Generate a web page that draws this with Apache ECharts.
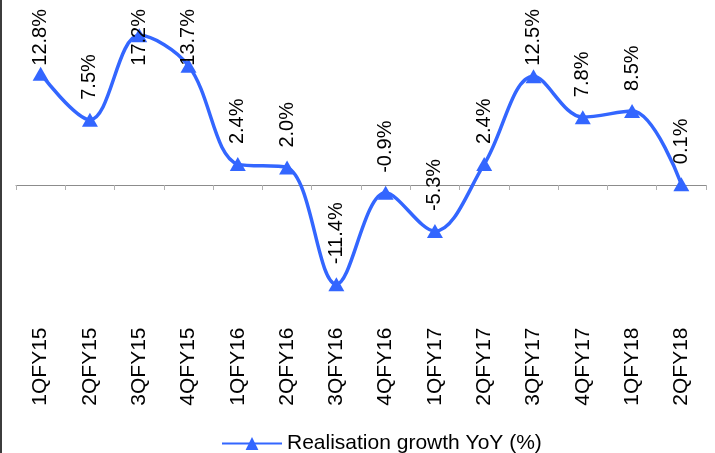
<!DOCTYPE html>
<html>
<head>
<meta charset="utf-8">
<style>
  html, body { margin: 0; padding: 0; background: #fff; }
  #chart { width: 715px; height: 453px; }
</style>
<script src="https://cdn.jsdelivr.net/npm/echarts@6/dist/echarts.min.js"></script>
</head>
<body>
<div id="chart"></div>
<script>
// Quarterly realisation growth, year on year (%)
const quarters = ['1QFY15', '2QFY15', '3QFY15', '4QFY15', '1QFY16', '2QFY16', '3QFY16',
                  '4QFY16', '1QFY17', '2QFY17', '3QFY17', '4QFY17', '1QFY18', '2QFY18'];
const realisationGrowth = [12.8, 7.5, 17.2, 13.7, 2.4, 2.0, -11.4, -0.9, -5.3, 2.4, 12.5, 7.8, 8.5, 0.1];
const seriesName = 'Realisation growth YoY (%)';

const FONT = '"Liberation Sans", Arial, sans-serif';
const BLUE = '#3366ff';
const LABEL_SIZE = 20;
const LABEL_GAP = 13;

const chart = echarts.init(document.getElementById('chart'), null, { renderer: 'canvas' });

const fmt = v => v.toFixed(1) + '%';

chart.setOption({
  animation: false,
  backgroundColor: '#ffffff',
  textStyle: { fontFamily: FONT },
  grid: { left: 16, right: 9, top: 11, bottom: 137.5, containLabel: false },
  legend: {
    data: [seriesName],
    left: 216,
    top: 428,
    itemWidth: 60,
    itemHeight: 16,
    itemGap: 6,
    textStyle: { fontFamily: FONT, fontSize: 21, color: '#000' }
  },
  xAxis: [
    {
      // quarter labels along the bottom edge
      type: 'category',
      data: quarters,
      boundaryGap: true,
      position: 'bottom',
      axisLine: { show: false, onZero: false },
      axisTick: { show: false },
      axisLabel: {
        rotate: 90,
        margin: 12,
        interval: 0,
        fontFamily: FONT,
        fontSize: 21,
        color: '#000'
      }
    },
    {
      // zero baseline with category ticks
      type: 'category',
      data: quarters,
      boundaryGap: true,
      position: 'bottom',
      axisLine: { show: true, onZero: true, lineStyle: { color: '#8c8c8c', width: 1 } },
      axisTick: { show: true, length: 5, interval: 0, lineStyle: { color: '#b0b0b0' } },
      axisLabel: { show: false }
    }
  ],
  yAxis: {
    type: 'value',
    min: -15,
    max: 20,
    show: false,
    splitLine: { show: false }
  },
  graphic: [
    {
      type: 'rect',
      shape: { x: 0, y: 0, width: 2, height: 453 },
      style: { fill: '#3c3c3c' },
      silent: true
    }
  ],
  series: [
    {
      name: seriesName,
      type: 'line',
      xAxisIndex: 0,
      data: realisationGrowth,
      smooth: 0.35,
      symbol: 'triangle',
      symbolSize: [16, 14],
      lineStyle: { color: BLUE, width: 3.5 },
      itemStyle: { color: BLUE },
      label: {
        show: true,
        position: 'top',
        distance: LABEL_GAP,
        rotate: 90,
        align: 'left',
        verticalAlign: 'middle',
        fontFamily: FONT,
        fontSize: LABEL_SIZE,
        color: '#000',
        formatter: p => fmt(p.value)
      }
    }
  ]
});

// Pull down any vertical label that would run past the top edge of the canvas.
const measure = document.createElement('canvas').getContext('2d');
measure.font = LABEL_SIZE + 'px ' + FONT;
const TOP_LIMIT = 9;
const SYMBOL_HALF = 7;
const seriesData = realisationGrowth.map((v, i) => {
  const py = chart.convertToPixel({ xAxisIndex: 0, yAxisIndex: 0 }, [i, v])[1];
  const len = measure.measureText(fmt(v)).width;
  const top = py - SYMBOL_HALF - LABEL_GAP - len;
  if (top >= TOP_LIMIT) return v;
  return { value: v, label: { distance: LABEL_GAP - (TOP_LIMIT - top) } };
});
chart.setOption({ series: [{ data: seriesData }] });
</script>
</body>
</html>
